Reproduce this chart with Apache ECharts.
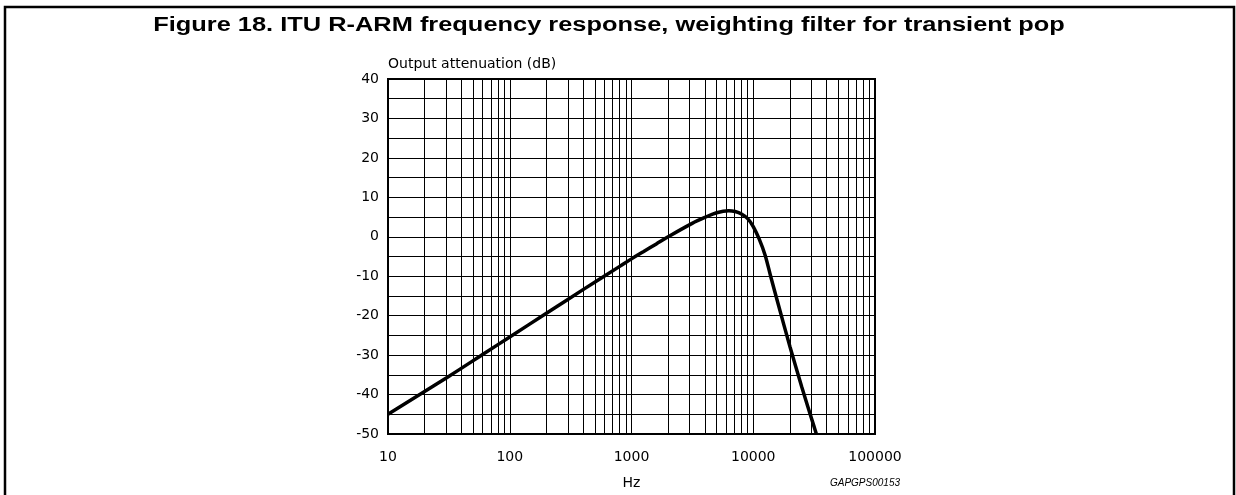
<!DOCTYPE html>
<html>
<head>
<meta charset="utf-8">
<script src="https://cdn.jsdelivr.net/npm/echarts@6/dist/echarts.min.js"></script>
<style>
  html, body { margin: 0; padding: 0; background: #fff; }
  #chart { width: 1236px; height: 495px; }
</style>
</head>
<body>
<div id="chart"></div>
<script>
// ITU R-ARM weighting curve
var freqHz = [10, 31.5, 63, 100, 200, 400, 800, 1000, 1250, 1600, 2000, 3150, 4000, 5000, 6300, 7100, 8000, 9000, 10000, 11200, 12500, 14000, 16000, 20000, 25000, 31500, 33000];
var attenDb = [-45, -35.4, -29.4, -25.4, -19.4, -13.4, -7.5, -5.6, -3.8, -1.8, 0, 3.4, 4.9, 6.1, 6.6, 6.4, 5.8, 4.6, 2.6, -0.6, -4.6, -10.4, -17, -27.8, -38, -48, -50];

// vertical grid lines (2..9 per decade)
var minorFreqs = [20, 30, 40, 50, 60, 70, 80, 90,
  200, 300, 400, 500, 600, 700, 800, 900,
  2000, 3000, 4000, 5000, 6000, 7000, 8000, 9000,
  20000, 30000, 40000, 50000, 60000, 70000, 80000, 90000];

var chart = echarts.init(document.getElementById('chart'));

var points = freqHz.map(function (f, i) { return [f, attenDb[i]]; });
var gridMarks = minorFreqs.map(function (f) { return { xAxis: f }; });

var font = "'Liberation Sans', Arial, sans-serif";
var labelFont = "'DejaVu Sans', 'Liberation Sans', sans-serif";

var option = {
  animation: false,
  backgroundColor: '#fff',
  grid: {
    left: 388,
    right: 361,
    top: 79,
    bottom: 61,
    show: true,
    borderColor: '#000',
    borderWidth: 2,
    backgroundColor: 'transparent'
  },
  xAxis: {
    type: 'log',
    logBase: 10,
    min: 10,
    max: 100000,
    name: 'Hz',
    nameLocation: 'middle',
    nameGap: 42,
    nameTextStyle: { fontFamily: labelFont, fontSize: 14, color: '#000' },
    axisLine: { show: true, onZero: false, lineStyle: { color: '#000', width: 2 } },
    axisTick: { show: false },
    axisLabel: {
      fontFamily: labelFont, fontSize: 14, color: '#000', margin: 16,
      formatter: function (v) { return String(v); }
    },
    splitLine: { show: true, lineStyle: { color: '#000', width: 1 } }
  },
  yAxis: {
    type: 'value',
    min: -50,
    max: 40,
    interval: 10,
    name: 'Output attenuation (dB)',
    nameLocation: 'end',
    nameGap: 15,
    nameTextStyle: { fontFamily: labelFont, fontSize: 14, color: '#000', align: 'left', verticalAlign: 'middle' },
    axisLine: { show: true, lineStyle: { color: '#000', width: 2 } },
    axisTick: { show: false },
    axisLabel: { fontFamily: labelFont, fontSize: 14, color: '#000', margin: 9 },
    splitLine: { show: true, lineStyle: { color: '#000', width: 1 } },
    minorTick: { show: false, splitNumber: 2 },
    minorSplitLine: { show: true, lineStyle: { color: '#000', width: 1 } }
  },
  series: [
    {
      type: 'line',
      data: [],
      silent: true,
      z: 1,
      markLine: {
        silent: true,
        symbol: 'none',
        label: { show: false },
        lineStyle: { color: '#000', width: 1, type: 'solid' },
        data: gridMarks
      }
    },
    {
      type: 'line',
      data: points,
      smooth: 0.35,
      showSymbol: false,
      z: 5,
      lineStyle: { color: '#000', width: 3.5 }
    }
  ],
  graphic: [
    {
      type: 'polyline',
      shape: { points: [[5, 495], [5, 7], [1234, 7], [1234, 495]] },
      style: { stroke: '#000', lineWidth: 2.5, fill: null }
    },
    {
      // title, set a bit wide like the original print
      type: 'text',
      x: 609,
      y: 25,
      scaleX: 1.27,
      style: {
        text: 'Figure 18. ITU R-ARM frequency response, weighting filter for transient pop',
        font: 'bold 20px ' + font,
        fill: '#000',
        align: 'center',
        verticalAlign: 'middle'
      }
    },
    {
      type: 'text',
      right: 336,
      top: 478,
      style: { text: 'GAPGPS00153', font: 'italic 10px ' + font, fill: '#000' }
    }
  ]
};

chart.setOption(option);
</script>
</body>
</html>
